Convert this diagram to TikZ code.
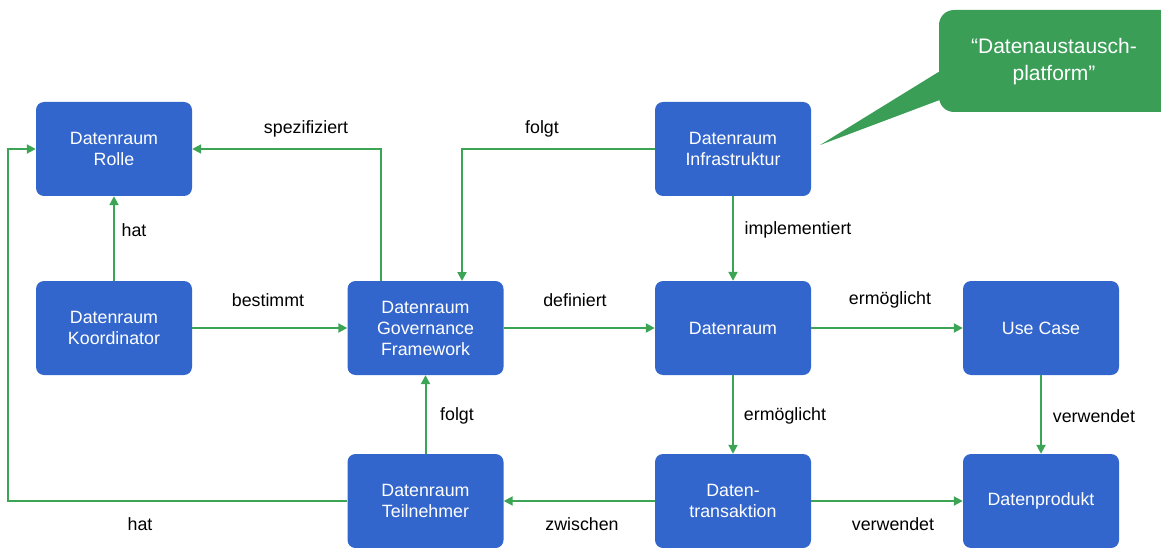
\documentclass[tikz,border=0pt]{standalone}
\usepackage{fontspec}
\setmainfont{Liberation Sans}
\usetikzlibrary{arrows.meta}
\definecolor{boxblue}{RGB}{51,102,204}
\definecolor{linegreen}{RGB}{60,165,85}
\definecolor{callgreen}{RGB}{58,158,87}
\begin{document}
\begin{tikzpicture}[x=1pt,y=-1pt,
  box/.style={draw=none,fill=boxblue,rounded corners=8pt,minimum width=156pt,minimum height=94pt,
    text=white,align=center,font=\fontsize{17.8}{21}\selectfont,inner sep=0pt},
  conn/.style={draw=linegreen,line width=2pt,-{Triangle[length=9pt,width=9pt]}},
  lbl/.style={font=\fontsize{17.8}{21}\selectfont,text=black,inner sep=0pt}]
\useasboundingbox (0,0) rectangle (1161,548);
% callout
\begin{scope}
\clip (0,0) rectangle (1161,548);
\fill[callgreen,rounded corners=15pt] (939,10) rectangle (1185,112);
\fill[callgreen] (945,68) -- (820,145) -- (945,98) -- cycle;
\end{scope}
\node[lbl,text=white,align=center,font=\fontsize{21}{27}\selectfont] (call) at (1054,62) {“Datenaustausch-\\platform”};
% boxes
\node[box] (rolle) at (114,149) {Datenraum\\Rolle};
\node[box] (koord) at (114,328) {Datenraum\\Koordinator};
\node[box] (gov) at (425.5,328) {Datenraum\\Governance\\Framework};
\node[box] (infra) at (733,149) {Datenraum\\Infrastruktur};
\node[box] (dr) at (733,328) {Datenraum};
\node[box] (uc) at (1041,328) {Use Case};
\node[box] (teil) at (425.5,501) {Datenraum\\Teilnehmer};
\node[box] (trans) at (733,501) {Daten-\\transaktion};
\node[box] (prod) at (1041,501) {Datenprodukt};
% coordinates
\coordinate (govtopL) at (381,281);
\coordinate (c1) at (381,149);
\coordinate (govtopR) at (462,281);
\coordinate (c2) at (462,149);
\coordinate (c3) at (8,501);
\coordinate (c4) at (8,149);
% connectors
\draw[conn] (koord.north) -- (rolle.south);
\draw[conn] (govtopL) -- (c1) -- (rolle.east);
\draw[conn] (infra.west) -- (c2) -- (govtopR);
\draw[conn] (koord.east) -- (gov.west);
\draw[conn] (gov.east) -- (dr.west);
\draw[conn] (infra.south) -- (dr.north);
\draw[conn] (dr.east) -- (uc.west);
\draw[conn] (dr.south) -- (trans.north);
\draw[conn] (uc.south) -- (prod.north);
\draw[conn] (teil.north) -- (gov.south);
\draw[conn] (trans.west) -- (teil.east);
\draw[conn] (trans.east) -- (prod.west);
\draw[conn] (teil.west) -- (c3) -- (c4) -- (rolle.west);
% labels
\node[lbl] (l1) at (134,230) {hat};
\node[lbl] (l2) at (306,129) {spezifiziert};
\node[lbl] (l3) at (542,129) {folgt};
\node[lbl] (l4) at (268,300) {bestimmt};
\node[lbl] (l5) at (575,300) {definiert};
\node[lbl] (l6) at (798,230) {implementiert};
\node[lbl] (l7) at (890,300) {ermöglicht};
\node[lbl] (l8) at (785,416) {ermöglicht};
\node[lbl] (l9) at (1094,416) {verwendet};
\node[lbl] (l10) at (457,416) {folgt};
\node[lbl] (l11) at (582,524) {zwischen};
\node[lbl] (l12) at (893,524) {verwendet};
\node[lbl] (l13) at (140,524) {hat};
\end{tikzpicture}
\end{document}
